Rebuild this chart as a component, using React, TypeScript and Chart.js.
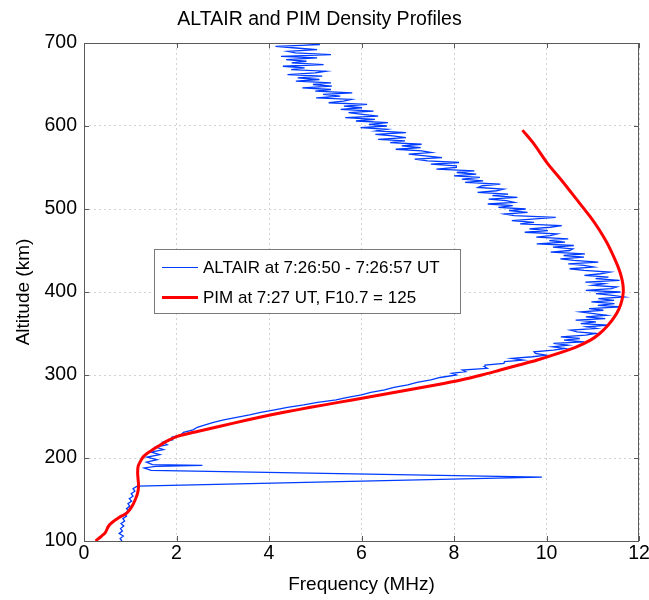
import { useEffect, useRef } from "react";
import { Chart, registerables } from "chart.js";

Chart.register(...registerables);

const FONT = "'Liberation Sans', Arial, Helvetica, sans-serif";

const chartTitle = "ALTAIR and PIM Density Profiles";
const xAxisTitle = "Frequency (MHz)";
const yAxisTitle = "Altitude (km)";
const altairLabel = "ALTAIR at 7:26:50 - 7:26:57 UT";
const pimLabel = "PIM at 7:27 UT, F10.7 = 125";

const freqTicks = [0, 2, 4, 6, 8, 10, 12];
const altTicks = [100, 200, 300, 400, 500, 600, 700];

// ALTAIR radar profile (km, MHz)
const altairAltitude = [
  100, 103, 106, 109, 112, 115, 118, 121, 124, 127,
  130, 133, 136, 139, 142, 145, 148, 151, 154, 157,
  160, 163, 166, 177, 185, 188, 190, 191, 192, 195,
  198, 201, 204, 207, 210, 213, 216, 219, 222, 225,
  228, 231, 234, 237, 240, 243, 246, 249, 252, 255,
  258, 261, 264, 267, 270, 273, 276, 279, 282, 285,
  288, 291, 294, 297,
  300, 302, 304, 306, 308, 310, 312, 314, 316, 318,
  320, 322, 324, 326, 328, 330, 332, 334, 336, 338,
  340, 342, 344, 346, 348, 350, 352, 354, 356, 358,
  360, 362, 364, 366, 368, 370, 372, 374, 376, 378,
  380, 382, 384, 386, 388, 390, 392, 394, 396, 398,
  400, 402, 404, 406, 408, 410, 412, 414, 416, 418,
  420, 422, 424, 426, 428, 430, 432, 434, 436, 438,
  440, 442, 444, 446, 448, 450, 452, 454, 456, 458,
  460, 462, 464, 466, 468, 470, 472, 474, 476, 478,
  480, 482, 484, 486, 488, 490, 492, 494, 496, 498,
  500, 502, 504, 506, 508, 510, 512, 514, 516, 518,
  520, 522, 524, 526, 528, 530, 532, 534, 536, 538,
  540, 542, 544, 546, 548, 550, 552, 554, 556, 558,
  560, 562, 564, 566, 568, 570, 572, 574, 576, 578,
  580, 582, 584, 586, 588, 590, 592, 594, 596, 598,
  600, 602, 604, 606, 608, 610, 612, 614, 616, 618,
  620, 622, 624, 626, 628, 630, 632, 634, 636, 638,
  640, 642, 644, 646, 648, 650, 652, 654, 656, 658,
  660, 662, 664, 666, 668, 670, 672, 674, 676, 678,
  680, 682, 684, 686, 688, 690, 692, 694, 696, 698,
  700,
];
const altairFrequency = [
  0.82, 0.78, 0.85, 0.76, 0.83, 0.79, 0.86, 0.8, 0.88, 0.84,
  0.92, 0.88, 0.96, 0.92, 0.99, 0.95, 1.03, 0.98, 1.06, 1.02,
  1.1, 1.06, 1.15, 9.9, 1.45, 1.3, 1.55, 2.56, 1.48, 1.35,
  1.58, 1.36, 1.64, 1.45, 1.72, 1.55, 1.8, 1.7, 1.92, 1.9,
  2.1, 2.15, 2.36, 2.45, 2.62, 2.8, 3.02, 3.3, 3.58, 3.82,
  4.12, 4.4, 4.75, 5.05, 5.45, 5.7, 6.0, 6.2, 6.5, 6.7,
  7.0, 7.2, 7.5, 7.7,
  8.05, 7.95, 8.25, 8.18, 8.72, 8.66, 8.67, 9.08, 9.09, 9.5,
  9.25, 9.7, 9.99, 9.76, 9.73, 10.15, 10.4, 10.13, 10.46, 10.15,
  10.82, 10.38, 10.72, 10.31, 10.85, 11.07, 10.66, 10.52, 11.08, 10.87,
  11.35, 10.74, 11.07, 10.63, 11.27, 10.85, 11.3, 11.02, 10.74, 11.23,
  10.92, 11.61, 11.11, 11.47, 10.97, 11.46, 11.12, 11.68, 11.43, 11.07,
  11.6, 10.85, 11.4, 11.52, 11.0, 11.25, 10.84, 11.58, 11.06, 11.34,
  10.82, 11.17, 11.37, 10.81, 10.5, 11.02, 10.81, 10.47, 11.12, 10.59,
  10.3, 10.81, 10.37, 10.83, 10.09, 10.5, 10.57, 10.14, 10.59, 9.79,
  10.4, 10.06, 10.47, 9.78, 10.08, 10.23, 9.53, 10.03, 9.63, 10.08,
  10.33, 9.43, 9.73, 9.25, 9.76, 10.2, 9.3, 9.09, 9.59, 9.19,
  9.55, 8.96, 9.27, 8.73, 9.3, 9.13, 8.75, 9.37, 8.83, 9.17,
  8.51, 8.92, 9.07, 8.52, 8.61, 9.0, 8.24, 8.63, 8.17, 8.56,
  8.0, 8.48, 8.06, 8.44, 7.62, 8.05, 8.05, 7.5, 8.11, 7.43,
  7.15, 7.74, 7.38, 7.02, 7.51, 7.3, 6.74, 7.28, 6.87, 7.3,
  6.62, 6.94, 6.36, 6.96, 6.68, 6.3, 6.96, 6.32, 6.55, 5.98,
  6.55, 6.16, 6.57, 5.88, 6.29, 5.65, 6.36, 6.02, 5.72, 6.26,
  5.55, 6.01, 5.62, 6.12, 5.29, 5.61, 5.78, 5.02, 5.54, 5.17,
  5.8, 5.0, 5.34, 4.72, 5.36, 4.95, 5.34, 4.58, 5.09, 4.62,
  5.15, 4.4, 5.0, 5.23, 4.48, 4.77, 4.3, 5.18, 4.49, 4.81,
  4.37, 5.04, 4.26, 5.34, 4.57, 4.4, 5.04, 4.58, 4.14, 5.1,
  4.65,
];

// PIM model profile (km, MHz)
const pimAltitude = [
  100, 106, 110, 118, 122, 128, 134, 142, 150, 158,
  166, 174, 182, 190, 196, 202, 208, 214, 220, 226,
  232, 238, 246, 252, 258, 264, 270, 276, 282, 288,
  294, 300, 306, 312, 318, 326, 334, 342, 350, 360,
  370, 380, 390, 400, 410, 420, 430, 443, 459, 475,
  491, 511, 535, 555, 579, 595,
];
const pimFrequency = [
  0.25, 0.38, 0.46, 0.53, 0.6, 0.75, 0.93, 1.04, 1.11, 1.16,
  1.18, 1.17, 1.16, 1.17, 1.22, 1.29, 1.43, 1.6, 1.78, 2.02,
  2.45, 2.92, 3.55, 4.05, 4.6, 5.2, 5.8, 6.4, 7.0, 7.6,
  8.15, 8.6, 9.0, 9.4, 9.8, 10.25, 10.65, 10.95, 11.15, 11.33,
  11.47, 11.57, 11.63, 11.66, 11.65, 11.61, 11.55, 11.45, 11.31, 11.14,
  10.94, 10.66, 10.32, 10.02, 9.72, 9.48,
];

const ALTAIR_COLOR = "rgb(0, 60, 255)";
const PIM_COLOR = "rgb(255, 0, 0)";

const toPoints = (xs: number[], ys: number[]) =>
  ys.map((y, i) => ({ x: xs[i], y }));

const framePlugin = {
  id: "matlabFrame",
  afterDatasetsDraw(chart: any) {
    const { ctx, chartArea, scales } = chart;
    const { left, right, top, bottom } = chartArea;
    ctx.save();
    ctx.strokeStyle = "#5a5a5a";
    ctx.lineWidth = 1;
    ctx.strokeRect(Math.round(left) + 0.5, Math.round(top) + 0.5, Math.round(right - left) - 1, Math.round(bottom - top));
    const tl = 5;
    ctx.beginPath();
    for (const v of freqTicks) {
      const px = Math.round(scales.x.getPixelForValue(v)) + 0.5;
      ctx.moveTo(px, bottom);
      ctx.lineTo(px, bottom - tl);
      ctx.moveTo(px, top);
      ctx.lineTo(px, top + tl);
    }
    for (const v of altTicks) {
      const py = Math.round(scales.y.getPixelForValue(v)) + 0.5;
      ctx.moveTo(left, py);
      ctx.lineTo(left + tl, py);
      ctx.moveTo(right, py);
      ctx.lineTo(right - tl, py);
    }
    ctx.stroke();
    ctx.restore();
  },
};

const legendPlugin = {
  id: "insideLegend",
  afterDraw(chart: any) {
    const { ctx } = chart;
    const boxL = 154, boxT = 249, boxW = 306, boxH = 64;
    ctx.save();
    ctx.fillStyle = "#ffffff";
    ctx.fillRect(boxL, boxT, boxW, boxH);
    ctx.strokeStyle = "#7a7a7a";
    ctx.lineWidth = 1;
    ctx.strokeRect(boxL + 0.5, boxT + 0.5, boxW, boxH);
    const order = [0, 1];
    order.forEach((di, row) => {
      const ds = chart.data.datasets[di];
      const cy = boxT + 18 + row * 30;
      ctx.strokeStyle = ds.borderColor;
      ctx.lineWidth = di === 0 ? 1 : ds.borderWidth;
      ctx.beginPath();
      ctx.moveTo(162, cy + 0.5);
      ctx.lineTo(198, cy + 0.5);
      ctx.stroke();
      ctx.fillStyle = "#000";
      ctx.font = `17px ${FONT}`;
      ctx.textBaseline = "middle";
      ctx.textAlign = "left";
      ctx.fillText(ds.label, 203, cy + 1);
    });
    ctx.restore();
  },
};

export default function App() {
  const canvasRef = useRef<HTMLCanvasElement>(null);

  useEffect(() => {
    const canvas = canvasRef.current;
    if (!canvas) return;
    const chart = new Chart(canvas, {
      type: "scatter",
      data: {
        datasets: [
          {
            label: altairLabel,
            data: toPoints(altairFrequency, altairAltitude),
            showLine: true,
            borderColor: ALTAIR_COLOR,
            backgroundColor: ALTAIR_COLOR,
            borderWidth: 1.3,
            pointRadius: 0,
            tension: 0,
            order: 1,
          },
          {
            label: pimLabel,
            data: toPoints(pimFrequency, pimAltitude),
            showLine: true,
            borderColor: PIM_COLOR,
            backgroundColor: PIM_COLOR,
            borderWidth: 3,
            pointRadius: 0,
            tension: 0.3,
            order: 0,
          },
        ],
      },
      options: {
        responsive: false,
        animation: false,
        layout: { padding: { left: 0, right: 10, top: 0, bottom: 0 } },
        plugins: {
          legend: { display: false },
          tooltip: { enabled: false },
          title: {
            display: true,
            text: chartTitle,
            color: "#000",
            font: { family: FONT, size: 19.5, weight: "normal" },
            padding: { top: 8, bottom: 11.6 },
          },
        },
        scales: {
          x: {
            type: "linear",
            min: 0,
            max: 12,
            afterBuildTicks: (s: any) => {
              s.ticks = freqTicks.map((v) => ({ value: v }));
            },
            afterFit: (s: any) => {
              s.height = 59;
              s.paddingLeft = 0;
              s.paddingRight = 0;
            },
            ticks: {
              color: "#000",
              font: { family: FONT, size: 19.5 },
              padding: 1,
              maxRotation: 0,
              autoSkip: false,
            },
            grid: { color: "#d2d2d2", lineWidth: 1, drawTicks: false },
            border: { display: false, dash: [2, 3] },
            title: {
              display: true,
              text: xAxisTitle,
              color: "#000",
              font: { family: FONT, size: 19 },
              padding: { top: 0, bottom: 3.6 },
            },
          },
          y: {
            type: "linear",
            min: 100,
            max: 700,
            afterBuildTicks: (s: any) => {
              s.ticks = altTicks.map((v) => ({ value: v }));
            },
            afterFit: (s: any) => {
              s.width = 84;
            },
            ticks: {
              color: "#000",
              font: { family: FONT, size: 19.5 },
              padding: 7,
              autoSkip: false,
            },
            grid: { color: "#d2d2d2", lineWidth: 1, drawTicks: false },
            border: { display: false, dash: [2, 3] },
            title: {
              display: true,
              text: yAxisTitle,
              color: "#000",
              font: { family: FONT, size: 19 },
              padding: { top: 12.6, bottom: 0 },
            },
          },
        },
      },
      plugins: [framePlugin, legendPlugin],
    } as any);
    return () => chart.destroy();
  }, []);

  return (
    <div style={{ position: "absolute", left: 0, top: 0, width: 649, height: 600, background: "#fff" }}>
      <canvas ref={canvasRef} width={649} height={600} style={{ display: "block", width: 649, height: 600 }} />
    </div>
  );
}
